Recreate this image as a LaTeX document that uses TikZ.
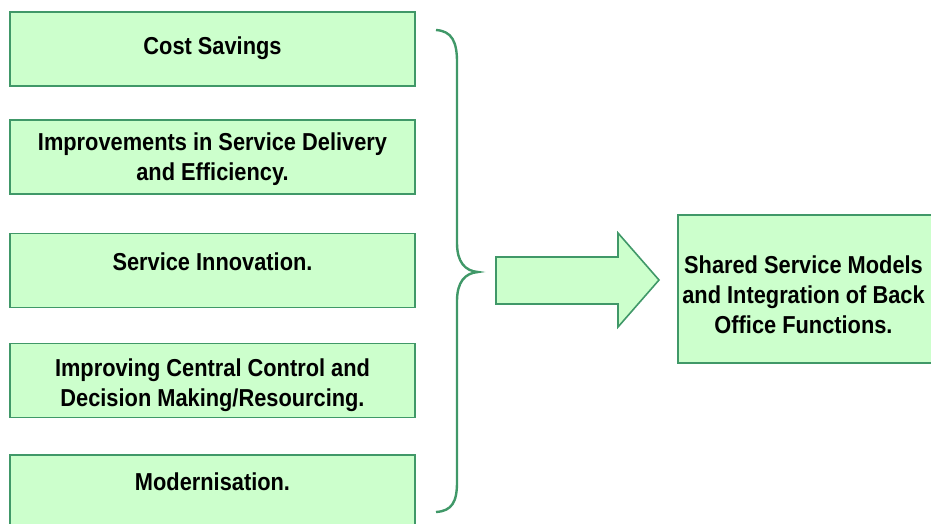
\documentclass[tikz,border=0pt]{standalone}
\usepackage{fontspec}
\setmainfont[FakeStretch=0.89]{Liberation Sans}
\usetikzlibrary{positioning}
\definecolor{boxfill}{RGB}{204,255,204}
\definecolor{boxline}{RGB}{64,152,104}

\begin{document}
\begin{tikzpicture}[x=1pt, y=-1pt,
    benefit/.style={draw=boxline, line width=1.6pt, fill=boxfill,
        minimum width=405pt, minimum height=74pt, inner sep=0pt},
    caption/.style={font=\bfseries\fontsize{24.5}{30}\selectfont,
        align=center, inner sep=0pt}]
    \useasboundingbox (0,0) rectangle (931,523);

    % Benefit boxes on the left
    \node[benefit] (cost) at (212.5,49) {};
    \node[benefit] (delivery) at (212.5,157) {};
    \node[benefit] (innovation) at (212.5,270.5) {};
    \node[benefit] (control) at (212.5,380.5) {};
    \node[benefit] (modern) at (212.5,492) {};

    \node[caption] (costtext) at ([yshift=-37pt]cost.north) {Cost Savings};
    \node[caption] (deliverytext) at ([yshift=-2.5pt]delivery.center)
        {Improvements in Service Delivery\\and Efficiency.};
    \node[caption] (innovationtext) at ([yshift=-29pt]innovation.north)
        {Service Innovation.};
    \node[caption] (controltext) at ([yshift=-43pt]control.north)
        {Improving Central Control and\\Decision Making/Resourcing.};
    \node[caption] (moderntext) at ([yshift=-28pt]modern.north)
        {Modernisation.};

    %Draw the brace
    \draw[boxline, line width=2.4pt]
        (436,30) .. controls (452,31) and (457,42) .. (457,62)
        -- (457,243) .. controls (457,262) and (465,271) .. (478,272)
        .. controls (465,273) and (457,282) .. (457,301)
        -- (457,482) .. controls (457,502) and (452,511) .. (436,512);

    %Draw the block arrow
    \draw[boxline, line width=1.6pt, fill=boxfill]
        (496,257) -- (618,257) -- (618,233) -- (659,280)
        -- (618,327) -- (618,304) -- (496,304) -- cycle;

    % Result box on the right
    \node[benefit, minimum width=255pt, minimum height=148pt]
        (shared) at (805.5,289) {};
    \node[caption] (sharedtext) at ([xshift=-2pt,yshift=-6pt]shared.center)
        {Shared Service Models\\and Integration of Back\\Office Functions.};
\end{tikzpicture}
\end{document}
